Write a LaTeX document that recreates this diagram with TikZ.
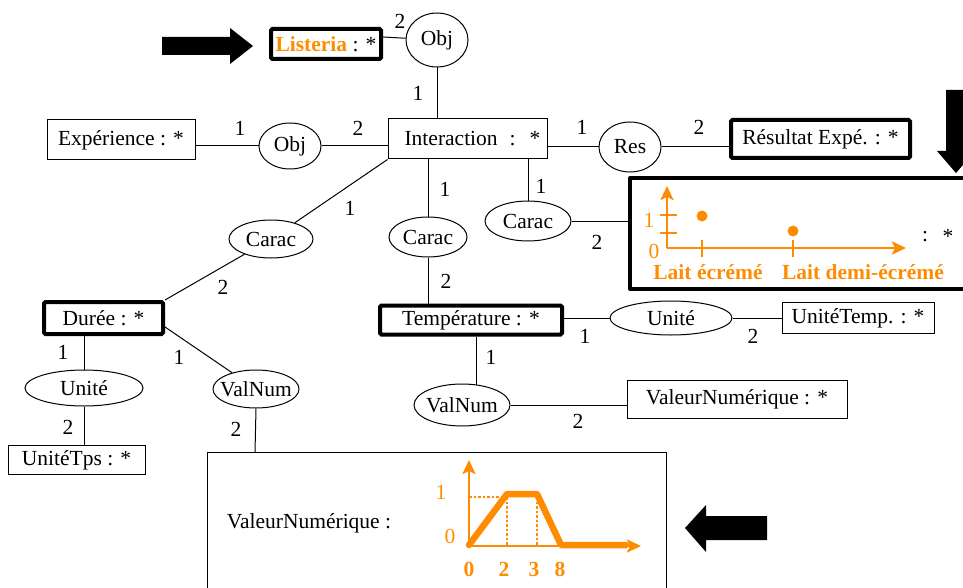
\documentclass[tikz,border=0pt]{standalone}
\usepackage{fontspec}
\setmainfont{Liberation Serif}
\usetikzlibrary{shapes.geometric,arrows.meta}
\definecolor{org}{RGB}{255,140,0}
\newcommand\zw[1]{\makebox[0pt]{#1}}
\begin{document}
\begin{tikzpicture}[x=1pt,y=-1pt,
  every node/.style={font=\fontsize{21.5}{24}\selectfont, inner sep=0pt},
  ent/.style={draw, line width=1pt, rectangle},
  bent/.style={draw, line width=4pt, rectangle, rounded corners=1.5pt},
  rel/.style={draw, ellipse, line width=1pt},
  lk/.style={line width=1pt},
  num/.style={},
  bigarrow/.style={fill=black, draw=none},
  oaxis/.style={draw=org, line width=2.5pt, -{Stealth[length=14pt,width=13pt,inset=3pt]}},
  olab/.style={text=org},
  oblab/.style={text=org, font=\fontsize{21.5}{24}\selectfont\bfseries}]
\useasboundingbox (0,0) rectangle (963,588);

% ---------- nodes ----------
\node[bent, minimum width=110, minimum height=30] (listeria) at (326,44)
  {{\color{org}\bfseries Listeria} : *};
\node[rel, minimum width=62, minimum height=54] (obj1) at (437,40) {\zw{Obj}};
\node[ent, minimum width=159, minimum height=40] (inter) at (467.5,139)
  {\raisebox{-3pt}{\hspace{10pt}Interaction\hspace{12pt}:\hspace{14pt}*}};
\node[ent, minimum width=148, minimum height=40] (exp) at (121,140) {Expérience : *};
\node[rel, minimum width=62, minimum height=46] (obj2) at (290,146) {\zw{Obj}};
\node[rel, minimum width=62, minimum height=50] (res) at (630,147) {\zw{Res}};
\node[bent, minimum width=179, minimum height=38] (resultat) at (820.5,139) {Résultat Expé. : *};

\node[rel, minimum width=84, minimum height=38] (caracL) at (271,239) {\zw{Carac}};
\node[rel, minimum width=78, minimum height=40] (caracM) at (428,237) {\zw{Carac}};
\node[rel, minimum width=86, minimum height=40] (caracR) at (528,221) {\zw{Carac}};

\node[bent, minimum width=119, minimum height=32] (duree) at (103.5,318) {Durée : *};
\node[rel, minimum width=118, minimum height=36] (uniteL) at (84,388) {\zw{Unité}};
\node[ent, minimum width=137, minimum height=29] (unitetps) at (76.5,460) {UnitéTps : *};
\node[rel, minimum width=86, minimum height=38] (valnumL) at (256,389) {\zw{ValNum}};

\node[bent, minimum width=182, minimum height=29] (temp) at (471,320) {Température : *};
\node[rel, minimum width=122, minimum height=34] (uniteR) at (671,318) {\zw{Unité}};
\node[ent, minimum width=152, minimum height=31] (unitetemp) at (858,318) {UnitéTemp. : *};
\node[rel, minimum width=96, minimum height=42] (valnumR) at (462,405) {\zw{ValNum}};
\node[ent, minimum width=220, minimum height=38] (valnumbox) at (737,399) {ValeurNumérique : *};

% chart box (open on the right, runs off the page)
\draw[line width=4pt, line join=round] (975,178) -- (630,178) -- (630,289) -- (975,289);
\coordinate (chartL) at (630,221);
% big bottom box (runs off the page)
\draw[lk] (207,590) -- (207,452) -- (666,452) -- (666,590);
\coordinate (bigtop) at (255,452);
\coordinate (vnRtop) at (476,385);

% ---------- connectors ----------
\draw[lk] ([yshift=7pt]listeria.east) -- (obj1);
\draw[lk] (obj1.south) -- (obj1.south |- inter.north);
\draw[lk] (exp.east |- obj2) -- (obj2);
\draw[lk] (obj2) -- (obj2 -| inter.west);
\draw[lk] (inter.east |- res) -- (res);
\draw[lk] (res) -- (res -| resultat.west);
\draw[lk] (inter.south west) -- (caracL);
\draw[lk] (caracL) -- (duree.north east);
\draw[lk] (caracM.north) -- (caracM.north |- inter.south);
\draw[lk] (caracM.south) -- (caracM.south |- temp.north);
\draw[lk] (caracR.north) -- (caracR.north |- inter.south);
\draw[lk] (caracR) -- (caracR -| chartL);
\draw[lk] (uniteL.north) -- (uniteL.north |- duree.south);
\draw[lk] (uniteL.south) -- (uniteL.south |- unitetps.north);
\draw[lk] ([yshift=-9pt]duree.east) -- (valnumL);
\draw[lk] (valnumL.south) -- (bigtop);
\draw[lk] (uniteR.west) -- (uniteR.west -| temp.east);
\draw[lk] (uniteR) -- (uniteR -| unitetemp.west);
\draw[lk] (vnRtop) -- (vnRtop |- temp.south);
\draw[lk] (valnumR) -- (valnumR -| valnumbox.west);

% ---------- cardinalities ----------
\node[num] (n1) at (400,21) {2};
\node[num] (n2) at (418,93) {1};
\node[num] (n3) at (240,128) {1};
\node[num] (n4) at (358,128) {2};
\node[num] (n5) at (582,127) {1};
\node[num] (n6) at (699,127) {2};
\node[num] (n7) at (350,208) {1};
\node[num] (n8) at (223,287) {2};
\node[num] (n9) at (445,189) {1};
\node[num] (n10) at (446,281) {2};
\node[num] (n11) at (541,186) {1};
\node[num] (n12) at (597,242) {2};
\node[num] (n13) at (63,352) {1};
\node[num] (n14) at (68,427) {2};
\node[num] (n15) at (179,357) {1};
\node[num] (n16) at (236,429) {2};
\node[num] (n17) at (585,336) {1};
\node[num] (n18) at (753,336) {2};
\node[num] (n19) at (491,357) {1};
\node[num] (n20) at (578,421) {2};

% ---------- top-right chart ----------
\draw[oaxis] (667,248) -- (667,186);
\draw[oaxis] (667,248) -- (906,248);
\draw[draw=org, line width=2pt] (660,215) -- (677,215) (660,233) -- (677,233);
\draw[draw=org, line width=2pt] (702,240) -- (702,257) (793,240) -- (793,257);
\fill[org] (702,216) circle (5.5);
\fill[org] (793,231) circle (5.5);
\node[olab] (c1) at (649,220) {1};
\node[olab] (c0) at (654,251) {0};
\node[oblab] (lait1) at (708,272) {Lait écrémé};
\node[oblab] (lait2) at (863,272) {Lait demi-écrémé};
\node (colon1) at (925,237) {:};
\node (star1) at (948,236) {*};

% ---------- bottom chart ----------
\node (vnlabel) at (309,523) {ValeurNumérique :};
\draw[draw=org, line width=2.5pt, dotted] (469,497) -- (507,497);
\draw[draw=org, line width=2.5pt, dotted] (507,497) -- (507,545);
\draw[draw=org, line width=2.5pt, dotted] (537,497) -- (537,545);
\draw[oaxis] (469,546) -- (469,460);
\draw[oaxis] (469,546) -- (641,546);
\draw[draw=org, line width=6.5pt, line join=round, line cap=round]
  (469,545) -- (507,494) -- (537,494) -- (561,545) -- (626,545);
\node[olab] (b1) at (441,492) {1};
\node[olab] (b0) at (450,536) {0};
\node[oblab] (t0) at (469,569) {0};
\node[oblab] (t2) at (504,569) {2};
\node[oblab] (t3) at (534,569) {3};
\node[oblab] (t8) at (560,569) {8};

% ---------- big black arrows ----------
\fill[bigarrow] (162,37) -- (230,37) -- (230,28) -- (253,46) -- (230,64) -- (230,55) -- (162,55) -- cycle;
\fill[bigarrow] (946,90) -- (966,90) -- (966,151) -- (975,151) -- (956,173) -- (937,151) -- (946,151) -- cycle;
\fill[bigarrow] (767,516) -- (706,516) -- (706,505) -- (685,528) -- (706,552) -- (706,540) -- (767,540) -- cycle;
\end{tikzpicture}
\end{document}
